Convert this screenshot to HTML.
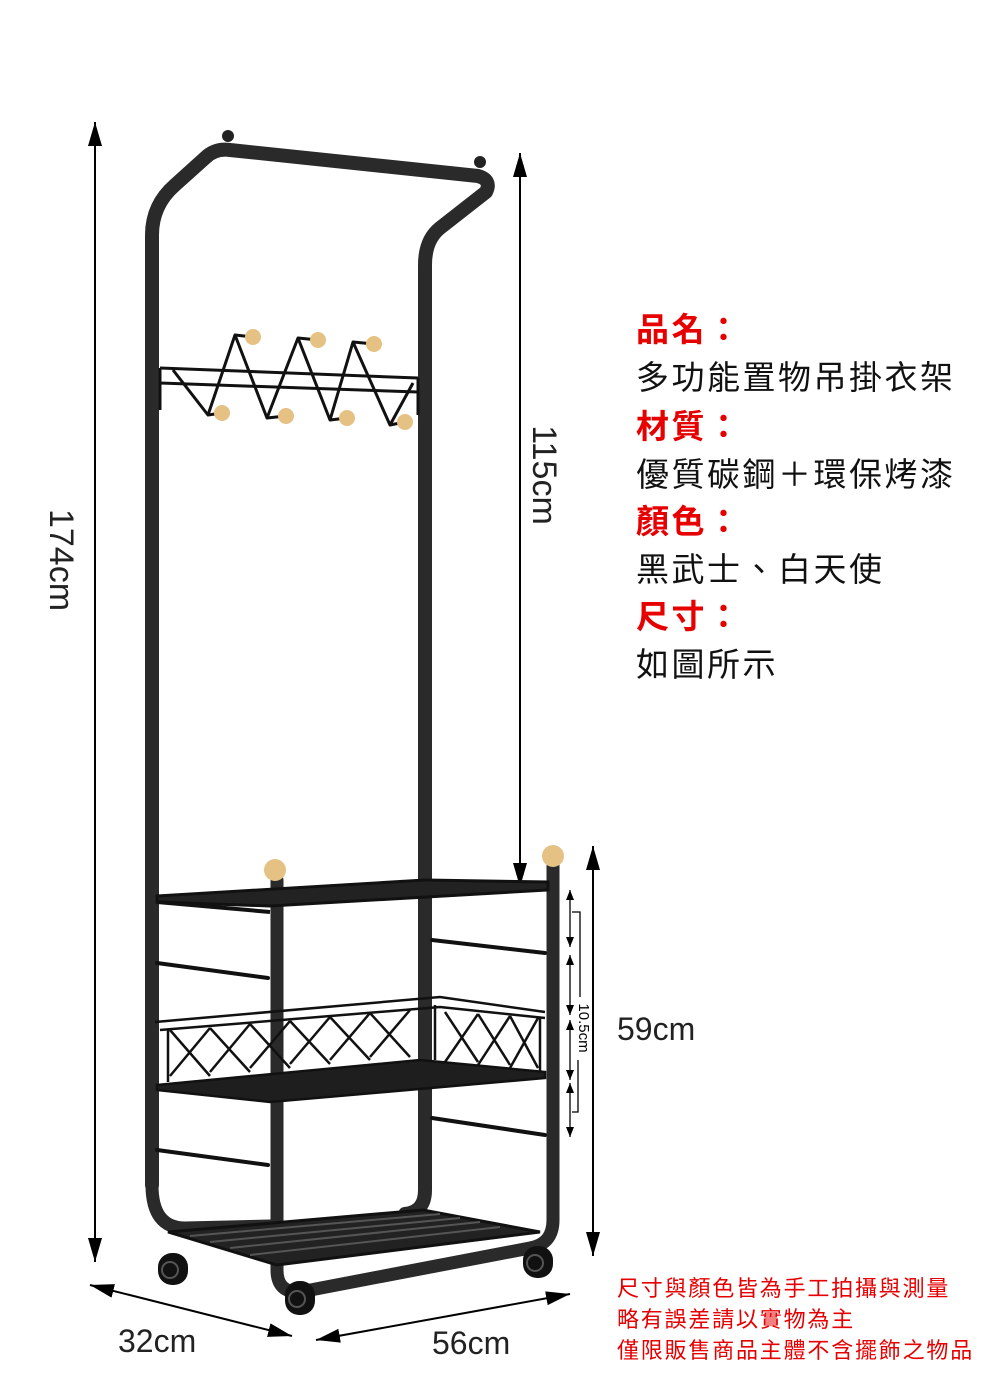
<!DOCTYPE html>
<html><head><meta charset="utf-8"><style>
html,body{margin:0;padding:0;background:#fff}
svg{display:block}
</style></head><body>
<svg width="1000" height="1400" viewBox="0 0 1000 1400" xmlns="http://www.w3.org/2000/svg">
<defs>
<marker id="ah" markerWidth="10" markerHeight="8" refX="10" refY="4" orient="auto-start-reverse" markerUnits="userSpaceOnUse" viewBox="0 0 10 8"><path d="M0,0 L10,4 L0,8 z" fill="#000"/></marker>
<marker id="ahb" markerWidth="24" markerHeight="14" refX="24" refY="7" orient="auto-start-reverse" markerUnits="userSpaceOnUse" viewBox="0 0 24 14"><path d="M0,0 L24,7 L0,14 z" fill="#000"/></marker>
</defs>
<g stroke="#000" stroke-width="2" fill="none">
<line x1="95" y1="122" x2="95" y2="1262" marker-start="url(#ahb)" marker-end="url(#ahb)"/>
<line x1="520" y1="153" x2="520" y2="887" marker-start="url(#ahb)" marker-end="url(#ahb)"/>
<line x1="593" y1="846" x2="593" y2="1256" marker-start="url(#ahb)" marker-end="url(#ahb)"/>
<line x1="90" y1="1285" x2="292" y2="1336" marker-start="url(#ahb)" marker-end="url(#ahb)"/>
<line x1="316" y1="1340" x2="570" y2="1294" marker-start="url(#ahb)" marker-end="url(#ahb)"/>
</g>
<g stroke="#000" stroke-width="1.3" fill="none">
<line x1="570" y1="890" x2="570" y2="947" marker-start="url(#ah)" marker-end="url(#ah)"/>
<line x1="570" y1="955" x2="570" y2="1015" marker-start="url(#ah)" marker-end="url(#ah)"/>
<line x1="570" y1="1020" x2="570" y2="1080" marker-start="url(#ah)" marker-end="url(#ah)"/>
<line x1="570" y1="1083" x2="570" y2="1137" marker-start="url(#ah)" marker-end="url(#ah)"/>
<path d="M572,912 H580 V997 M578,1060 V1112 H572"/>
</g>
<text transform="translate(579,1028) rotate(90)" font-family="Liberation Sans, sans-serif" font-size="15" text-anchor="middle" fill="#000">10.5cm</text>

<g fill="none" stroke="#2a2a2a" stroke-linecap="round" stroke-linejoin="round">
<path d="M152,1185 V235 Q152,205 175,185 L205,158 Q215,148 230,150 L478,176 Q492,180 486,192 L440,228 Q425,240 425,265 V1190 Q425,1212 405,1214" stroke-width="14"/>
<path d="M152,1185 Q152,1228 185,1228 L270,1226" stroke-width="13"/>
<path d="M277,880 V1270 Q277,1293 300,1292 L530,1248 Q553,1244 553,1220 V862" stroke-width="13"/>
</g>
<g stroke="#111" stroke-width="4" stroke-linecap="round">
<line x1="157" y1="963" x2="268" y2="978"/>
<line x1="157" y1="1150" x2="268" y2="1165"/>
<line x1="432" y1="940" x2="545" y2="953"/>
<line x1="432" y1="1118" x2="545" y2="1135"/>
</g>
<polygon points="157,896 425,880 548,882 548,890 270,906 157,902" fill="#222" stroke="#111" stroke-width="3"/>
<line x1="157" y1="902" x2="270" y2="912" stroke="#111" stroke-width="4"/>
<g fill="none" stroke="#111" stroke-width="2.5">
<polygon points="157,1085 420,1060 545,1072 545,1078 270,1102 157,1090" fill="#1e1e1e"/>
<path d="M155,1022 L440,997 L545,1012"/>
<path d="M160,1030 L440,1007 L545,1018"/>
<path d="M168,1082 V1030 M540,1072 V1018 M435,1060 V1005"/>
<path d="M170,1030 L210,1076 M210,1028 L170,1076 M210,1028 L250,1072 M250,1024 L210,1072 M250,1024 L290,1068 M290,1021 L250,1068 M290,1021 L330,1064 M330,1017 L290,1064 M330,1017 L370,1060 M370,1013 L330,1060 M370,1013 L410,1057 M410,1010 L370,1057 M445,1012 L478,1062 M478,1014 L445,1062 M478,1014 L510,1065 M510,1016 L478,1065 M510,1016 L538,1068 M538,1018 L510,1068"/>
</g>
<g fill="none" stroke="#111" stroke-width="2">
<polygon points="168,1232 423,1210 540,1232 277,1265" fill="#222" stroke-width="3"/>
<path d="M190,1236 L440,1214 M210,1242 L460,1218 M230,1248 L480,1222 M250,1255 L500,1227" stroke="#555"/>
</g>
<g fill="#111">
<rect x="158" y="1253" width="30" height="32" rx="14"/><rect x="285" y="1281" width="30" height="34" rx="14"/><rect x="523" y="1246" width="30" height="32" rx="14"/>
</g>
<g fill="none" stroke="#555" stroke-width="2"><circle cx="170" cy="1270" r="8"/><circle cx="297" cy="1299" r="8"/><circle cx="535" cy="1263" r="8"/></g>
<g fill="none" stroke="#111" stroke-width="3" stroke-linejoin="round">
<path d="M160,368 L418,378 M160,383 L418,392 M160,368 V410 M418,378 V415"/>
<path d="M173,370 L208,415 L235,335 L267,418 L298,338 L330,420 L353,342 L390,425 L413,383"/>
<path d="M235,335 L253,337 M298,338 L318,340 M353,342 L374,344 M208,415 L222,413 M267,418 L286,416 M330,420 L347,418 M390,425 L405,422"/>
</g>
<g fill="#e5c184">
<circle cx="253" cy="337" r="8"/><circle cx="318" cy="340" r="8"/><circle cx="374" cy="344" r="8"/>
<circle cx="222" cy="413" r="8"/><circle cx="286" cy="416" r="8"/><circle cx="347" cy="418" r="8"/><circle cx="405" cy="422" r="8"/>
<circle cx="275" cy="870" r="11"/><circle cx="553" cy="856" r="11"/>
</g>
<circle cx="228" cy="136" r="6" fill="#222"/><circle cx="480" cy="162" r="6" fill="#222"/>

<g font-family="Liberation Sans, 'Noto Sans CJK TC', sans-serif" fill="#222">
<text transform="translate(50,560) rotate(90)" font-size="34" text-anchor="middle">174cm</text>
<text transform="translate(533,475) rotate(90)" font-size="34" text-anchor="middle">115cm</text>
<text x="617" y="1040" font-size="32">59cm</text>
<text x="118" y="1352" font-size="32">32cm</text>
<text x="432" y="1354" font-size="32">56cm</text>
</g>
<g font-family="Liberation Sans, 'Noto Sans CJK TC', sans-serif" font-size="33" letter-spacing="2.5">
<text x="636" y="341" fill="#e60000" font-weight="bold">品名：</text>
<text x="636" y="389" fill="#111">多功能置物吊掛衣架</text>
<text x="636" y="438" fill="#e60000" font-weight="bold">材質：</text>
<text x="636" y="486" fill="#111">優質碳鋼＋環保烤漆</text>
<text x="636" y="533" fill="#e60000" font-weight="bold">顏色：</text>
<text x="636" y="581" fill="#111">黑武士、白天使</text>
<text x="636" y="628" fill="#e60000" font-weight="bold">尺寸：</text>
<text x="636" y="676" fill="#111">如圖所示</text>
</g>
<g font-family="Liberation Sans, 'Noto Sans CJK TC', sans-serif" font-size="22" letter-spacing="1.8" fill="#e60000">
<text x="617" y="1296">尺寸與顏色皆為手工拍攝與測量</text>
<text x="617" y="1327">略有誤差請以實物為主</text>
<text x="617" y="1358">僅限販售商品主體不含擺飾之物品</text>
</g>
</svg>
</body></html>
